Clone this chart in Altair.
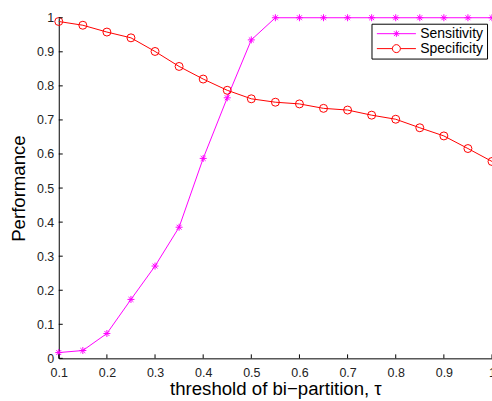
import altair as alt
import pandas as pd

thresholds = [0.10, 0.15, 0.20, 0.25, 0.30, 0.35, 0.40, 0.45, 0.50, 0.55,
              0.60, 0.65, 0.70, 0.75, 0.80, 0.85, 0.90, 0.95, 1.00]
sensitivity = [0.017, 0.023, 0.073, 0.173, 0.271, 0.385, 0.587, 0.765, 0.935, 1.0,
               1.0, 1.0, 1.0, 1.0, 1.0, 1.0, 1.0, 1.0, 1.0]
specificity = [0.989, 0.978, 0.958, 0.941, 0.901, 0.857, 0.820, 0.787, 0.762, 0.752,
               0.747, 0.734, 0.729, 0.714, 0.702, 0.677, 0.653, 0.616, 0.578]
series_names = ["Sensitivity", "Specificity"]
series_colors = ["#ff00ff", "#ff0000"]
x_ticks = [0.1, 0.2, 0.3, 0.4, 0.5, 0.6, 0.7, 0.8, 0.9, 1.0]
y_ticks = [0.0, 0.1, 0.2, 0.3, 0.4, 0.5, 0.6, 0.7, 0.8, 0.9, 1.0]

rows = []
for name, vals in zip(series_names, [sensitivity, specificity]):
    for t, v in zip(thresholds, vals):
        rows.append({"threshold": t, "value": v, "series": name})
df = pd.DataFrame(rows)

ASTER = "M-1,0H1M0,-1V1M-0.7,-0.7L0.7,0.7M-0.7,0.7L0.7,-0.7"
LEG_ASTER = "M-4.9,0H4.9M-0.8,0H0.8M0,-0.8V0.8M-0.6,-0.6L0.6,0.6M-0.6,0.6L0.6,-0.6"
LEG_CIRC = "M-4.9,0H-1M1,0H4.9M1,0A1,1,0,1,1,-1,0A1,1,0,1,1,1,0"

FONT = "Liberation Sans"
xs = alt.Scale(domain=[0.1, 1.0], nice=False, zero=False)
ys = alt.Scale(domain=[0, 1], nice=False, zero=False)
cs = alt.Scale(domain=series_names, range=series_colors)
ss = alt.Scale(domain=series_names, range=[LEG_ASTER, LEG_CIRC])

x_axis = alt.Axis(values=x_ticks, format="~g", title="threshold of bi−partition, τ",
                  tickSize=0, labelPadding=8, titlePadding=1, grid=False,
                  domainColor="black", labelColor="#222222", labelFontSize=12.5,
                  titleFontSize=18.7, titleFontWeight="normal", titleColor="black",
                  labelFont=FONT, titleFont=FONT, labelFlush=False)
y_axis = alt.Axis(values=y_ticks, format="~g", title="Performance",
                  tickSize=0, labelPadding=5, titlePadding=8, grid=False,
                  domainColor="black", labelColor="#222222", labelFontSize=12.5,
                  titleFontSize=18.7, titleFontWeight="normal", titleColor="black",
                  labelFont=FONT, titleFont=FONT, labelFlush=False)

leg = alt.Legend(title=None, orient="none", legendX=314, legendY=6,
                 strokeColor="black", fillColor="white", padding=3,
                 symbolSize=64, symbolStrokeWidth=1, symbolOffset=15,
                 labelOffset=17, labelFont=FONT, labelFontSize=14,
                 labelColor="black", rowPadding=1, cornerRadius=0)

X = alt.X("threshold:Q", scale=xs, axis=x_axis)
Y = alt.Y("value:Q", scale=ys, axis=y_axis)
C = alt.Color("series:N", scale=cs, legend=leg)

lines = alt.Chart(df).mark_line(strokeWidth=1, clip=False).encode(
    x=X, y=Y, color=C, detail="series:N",
)

pts_sens = alt.Chart(df).transform_filter(alt.datum.series == "Sensitivity").mark_point(
    shape=ASTER, size=49, filled=False, strokeWidth=1, opacity=1
).encode(x=X, y=Y, color=C)

pts_spec = alt.Chart(df).transform_filter(alt.datum.series == "Specificity").mark_point(
    shape="circle", size=64, filled=False, strokeWidth=1, opacity=1
).encode(x=X, y=Y, color=C)

xt = pd.DataFrame({"threshold": x_ticks})
yt = pd.DataFrame({"value": y_ticks})
x_tick_marks = alt.Chart(xt).mark_rule(color="black", strokeWidth=1).encode(
    x=X, y=alt.value(342), y2=alt.value(338),
)
y_tick_marks = alt.Chart(yt).mark_rule(color="black", strokeWidth=1).encode(
    y=Y, x=alt.value(0), x2=alt.value(4),
)

legend_layer = alt.Chart(df).transform_filter("false").mark_point(
    filled=False, strokeWidth=1
).encode(
    x=X, y=Y, color=C,
    shape=alt.Shape("series:N", scale=ss, legend=leg),
)

chart = alt.layer(
    lines, pts_sens, pts_spec, x_tick_marks, y_tick_marks, legend_layer
).properties(
    width=435, height=342,
    padding={"left": 59, "top": 17, "right": 0, "bottom": 42},
    autosize="none",
    background="white",
).configure_view(stroke=None)

chart.save("out.html", embed_options={"renderer": "svg", "actions": False})
